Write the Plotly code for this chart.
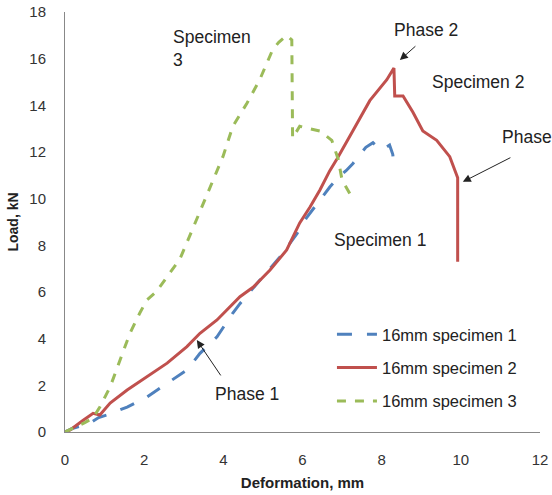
import plotly.graph_objects as go

# Specimen 1 (blue, dashed)
s1_x = [0, 0.2, 0.63, 0.85, 1.06, 1.57, 2.07, 2.58, 3.08, 3.41, 3.84, 4.24, 4.42, 4.92, 5.43, 5.86, 6.11, 6.44, 6.69, 6.9, 7.1, 7.27, 7.45, 7.6, 7.78, 7.9, 8.03, 8.2, 8.28, 8.3]
s1_y = [0, 0.16, 0.38, 0.62, 0.73, 1.07, 1.5, 2.1, 2.66, 3.37, 4.08, 5.1, 5.5, 6.5, 7.5, 8.5, 9.2, 9.94, 10.5, 10.9, 11.2, 11.5, 11.9, 12.2, 12.4, 12.2, 12.1, 12.3, 11.9, 11.6]

# Specimen 2 (red, solid)
s2_x = [0, 0.13, 0.46, 0.71, 0.88, 1.14, 1.57, 2.07, 2.58, 3.08, 3.41, 3.84, 4.2, 4.42, 4.75, 5.18, 5.6, 5.93, 6.19, 6.44, 6.69, 6.87, 7.27, 7.7, 8.13, 8.31, 8.33, 8.54, 8.79, 9.04, 9.39, 9.72, 9.92, 9.92]
s2_y = [0, 0.09, 0.5, 0.8, 0.73, 1.24, 1.8, 2.37, 2.95, 3.66, 4.23, 4.8, 5.4, 5.8, 6.2, 6.94, 7.8, 8.96, 9.64, 10.37, 11.2, 11.7, 12.9, 14.2, 15.1, 15.6, 14.4, 14.4, 13.7, 12.9, 12.5, 11.8, 10.9, 7.3]

# Specimen 3 (green, dashed)
s3_x = [0, 0.13, 0.5, 0.71, 0.88, 1.14, 1.39, 1.64, 1.89, 2.07, 2.3, 2.47, 2.7, 2.9, 3.1, 3.35, 3.58, 3.8, 3.99, 4.24, 4.6, 4.92, 5.25, 5.4, 5.6, 5.73, 5.75, 5.93, 6.2, 6.44, 6.74, 6.9, 7.0, 7.2]
s3_y = [0, 0.1, 0.4, 0.6, 1.07, 1.93, 3.1, 4.23, 5.1, 5.66, 6.0, 6.4, 6.9, 7.4, 8.2, 9.2, 10.1, 11.0, 11.8, 13.1, 14.1, 15.1, 16.4, 16.7, 17.0, 16.8, 12.6, 13.1, 13.0, 12.9, 12.5, 11.7, 10.8, 10.2]

names = ["16mm specimen 1", "16mm specimen 2", "16mm specimen 3"]
colors = ["#4F81BD", "#C0504D", "#9BBB59"]
dashes = ["longdash", "solid", "dash"]

x_ticks = [0, 2, 4, 6, 8, 10, 12]
y_ticks = [0, 2, 4, 6, 8, 10, 12, 14, 16, 18]

FONT = "Liberation Sans"

fig = go.Figure()
for i, (xs, ys, n, c, d) in enumerate(zip([s1_x, s2_x, s3_x], [s1_y, s2_y, s3_y], names, colors, dashes)):
    fig.add_trace(go.Scatter(x=xs, y=ys, mode="lines", name=n, legendgroup=f"g{i}",
                             line=dict(color=c, width=3, dash=d)))

annotations = [
    dict(x=2.68, y=17.45, text="Specimen<br>3", xanchor="left", yanchor="top", align="left"),
    dict(x=8.26, y=17.23, text="Phase 2", xanchor="left", yanchor="middle"),
    dict(x=9.22, y=15.0, text="Specimen 2", xanchor="left", yanchor="middle"),
    dict(x=10.98, y=12.64, text="Phase", xanchor="left", yanchor="middle"),
    dict(x=6.74, y=8.23, text="Specimen 1", xanchor="left", yanchor="middle"),
    dict(x=3.74, y=1.63, text="Phase 1", xanchor="left", yanchor="middle"),
]
for a in annotations:
    a.update(xref="x", yref="y", showarrow=False, font=dict(family=FONT, size=17.5, color="#222"))

arrows = [
    (8.46, 15.94, 8.89, 16.59),
    (10.05, 10.72, 11.29, 11.79),
    (3.33, 3.94, 3.96, 2.36),
]
for hx, hy, tx, ty in arrows:
    annotations.append(dict(x=hx, y=hy, ax=tx, ay=ty, xref="x", yref="y", axref="x", ayref="y",
                            text="", showarrow=True, arrowhead=2, arrowsize=1.6, arrowwidth=1,
                            arrowcolor="#222"))

fig.update_layout(
    width=552, height=495,
    margin=dict(l=65, r=12, t=12, b=63),
    plot_bgcolor="white", paper_bgcolor="white",
    font=dict(family=FONT, size=15, color="#333"),
    annotations=annotations,
    legend=dict(x=0.562, y=0.274, xanchor="left", yanchor="top", bgcolor="rgba(0,0,0,0)",
                font=dict(family=FONT, size=16.5, color="#222"), itemwidth=40, tracegroupgap=9),
    xaxis=dict(range=[0, 12], tickvals=x_ticks, showgrid=False, zeroline=False, automargin=False,
               showline=True, linecolor="#888", linewidth=1, ticks="", ticklabelstandoff=14,
               tickfont=dict(size=15, color="#333"),
               title=dict(text="<b>Deformation, mm</b>", font=dict(size=15, color="#222"), standoff=10)),
    yaxis=dict(range=[0, 18], tickvals=y_ticks, showgrid=False, zeroline=False, automargin=False,
               showline=True, linecolor="#888", linewidth=1, ticks="", ticklabelstandoff=15,
               tickfont=dict(size=15, color="#333"),
               title=dict(text="<b>Load, kN</b>", font=dict(size=14, color="#222"), standoff=7)),
)

fig.write_html("out.html", config={"displayModeBar": False},
               post_script="document.body.style.margin='0px';")
